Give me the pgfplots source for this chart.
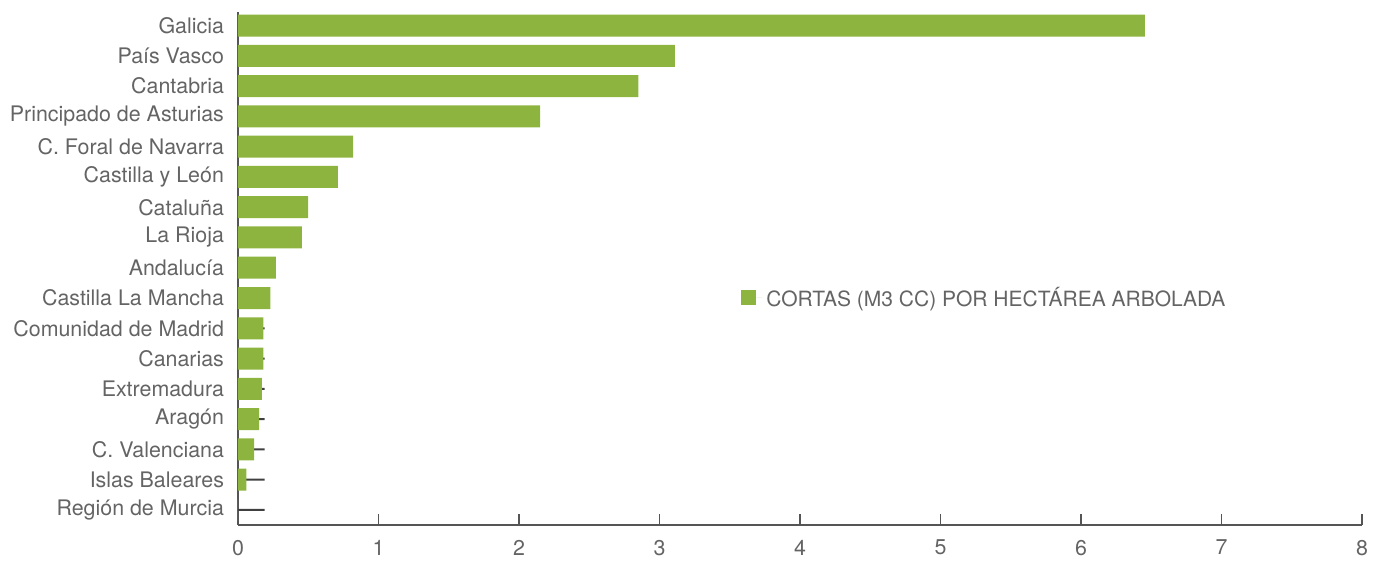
\documentclass[border=0pt]{standalone}
\usepackage{pgfplots}
\pgfplotsset{compat=1.18}
\usepackage{fontspec}
\setmainfont{TeX Gyre Heros}
\definecolor{barg}{RGB}{141,180,62}
\definecolor{txt}{RGB}{100,100,100}
\definecolor{axc}{RGB}{85,85,85}
\begin{document}
\begin{tikzpicture}
\begin{axis}[
  name=ax,
  scale only axis,
  width=562pt, height=256.5pt,
  xmin=0, xmax=8, ymin=-0.5, ymax=16.45,
  axis x line*=bottom, axis y line*=left,
  axis line style={draw=axc, line width=0.8pt, -},
  xtick={0,...,8},
  tick align=inside,
  x tick style={draw=axc, line width=0.8pt},
  major tick length=5.5pt,
  ytick={0,...,16},
  y tick style={draw=none},
  yticklabels={Región de Murcia, Islas Baleares, C. Valenciana, Aragón, Extremadura, Canarias, Comunidad de Madrid, Castilla La Mancha, Andalucía, La Rioja, Cataluña, Castilla y León, C. Foral de Navarra, Principado de Asturias, Cantabria, País Vasco, Galicia},
  extra y ticks={0.5,1.5,...,15.5},
  extra y tick labels={},
  extra y tick style={tick style={draw=black!80, line width=0.8pt}, major tick length=2pt, tick align=center},
  /pgf/number format/assume math mode=true,
  ticklabel style={font=\fontsize{10.7}{12}\selectfont, text=txt},
  yticklabel style={xshift=-3.5pt},
  xticklabel style={yshift=-4pt},
  legend style={draw=none, fill=none, at={(rel axis cs:0.4475,0.4425)}, anchor=west, font=\fontsize{10.5}{12}\selectfont, text=txt, inner sep=0pt, legend cell align=left},
  legend image code/.code={\fill[barg] (0pt,-3.75pt) rectangle (7.5pt,3.75pt); \path (7.5pt,0pt) -- (10.5pt,0pt);},
  clip=false,
]
\addplot[xbar, bar width=1pt, bar shift=0pt, fill=black!75, draw=none, forget plot] coordinates {
(0.19,0) (0.19,1) (0.19,2) (0.19,3) (0.19,4) (0.19,5) (0.19,6)
};
\addplot[xbar, bar width=11pt, bar shift=0pt, fill=barg, draw=none] coordinates {
(0,0) (0.06,1) (0.115,2) (0.15,3) (0.17,4) (0.18,5) (0.18,6) (0.23,7) (0.27,8) (0.455,9) (0.50,10) (0.71,11) (0.82,12) (2.15,13) (2.85,14) (3.11,15) (6.455,16)
};
\addlegendentry{CORTAS (M3 CC) POR HECTÁREA ARBOLADA}
\end{axis}
\pgfresetboundingbox
\path[use as bounding box] ([xshift=-119pt,yshift=-18pt]ax.south west) rectangle ([xshift=11.5pt,yshift=6pt]ax.north east);
\end{tikzpicture}
\end{document}
